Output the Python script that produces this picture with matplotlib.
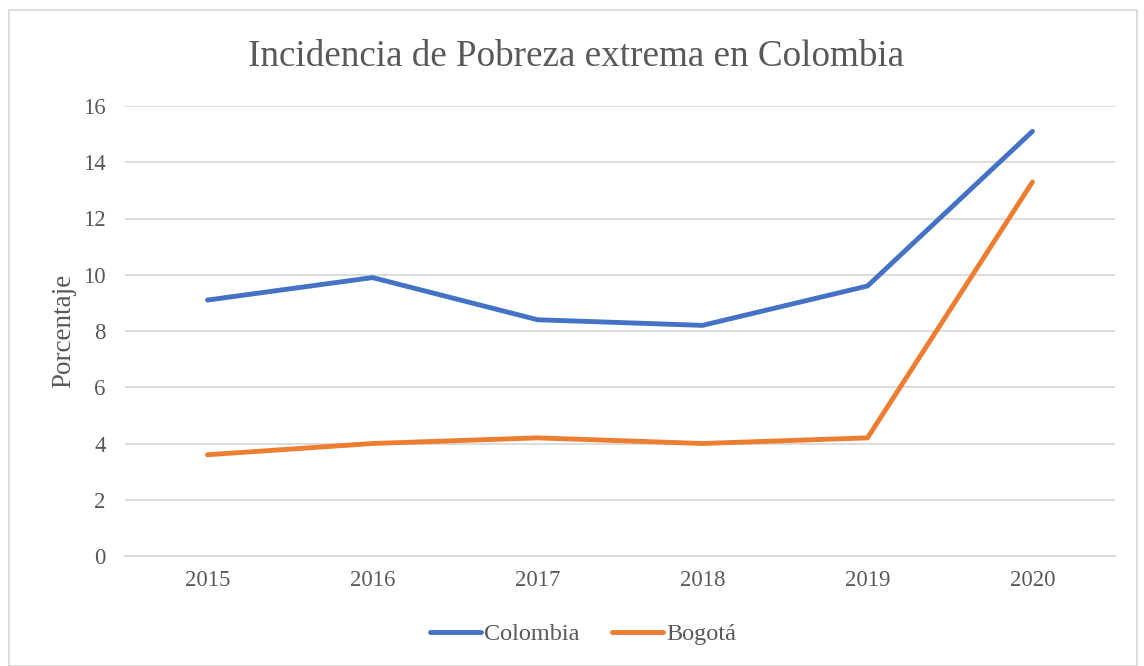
import matplotlib
matplotlib.use("Agg")
import matplotlib.pyplot as plt
from matplotlib.patches import Rectangle

years = ["2015", "2016", "2017", "2018", "2019", "2020"]
colombia = [9.1, 9.9, 8.4, 8.2, 9.6, 15.1]
bogota = [3.6, 4.0, 4.2, 4.0, 4.2, 13.3]
yticks = [0, 2, 4, 6, 8, 10, 12, 14, 16]

plt.rcParams['font.family'] = ['Liberation Serif', 'DejaVu Serif']
txt = '#595959'

fig = plt.figure(figsize=(11.44, 6.66), dpi=100)
ax = fig.add_axes([125/1144, 1-556/666, 990/1144, 450/666])

x = list(range(len(years)))
ax.plot(x, colombia, color='#4472C4', lw=3.5, solid_capstyle='round', solid_joinstyle='round', label='Colombia', zorder=3)
ax.plot(x, bogota, color='#ED7D31', lw=3.5, solid_capstyle='round', solid_joinstyle='round', label='Bogotá', zorder=3)

ax.set_xlim(-0.5, 5.5)
ax.set_ylim(0, 16)
ax.set_yticks(yticks)
ax.set_xticks(x)
ax.set_xticklabels(years)
ax.grid(axis='y', color='#D9D9D9', lw=1.3)
ax.set_axisbelow(True)
for s in ['top', 'right', 'left']:
    ax.spines[s].set_visible(False)
ax.spines['bottom'].set_color('#D9D9D9')
ax.spines['bottom'].set_linewidth(1.3)
ax.tick_params(axis='both', length=0, labelsize=16.5, colors=txt)
ax.tick_params(axis='y', pad=14)
ax.tick_params(axis='x', pad=10)
ax.set_ylabel('Porcentaje', fontsize=19.5, color=txt, labelpad=5)

fig.text(576/1144, 1-57/666, 'Incidencia de Pobreza extrema en Colombia', fontsize=26.7, color=txt, ha='center', va='center')

leg = fig.legend(loc='center', bbox_to_anchor=(583/1144, 1-634/666), ncol=2, frameon=False,
                 fontsize=17.5, handlelength=2.1, handletextpad=0.15, columnspacing=1.3)
for t in leg.get_texts():
    t.set_color(txt)

fig.patches.append(Rectangle((9/1144, 0), 1128/1144, 1-10/666, transform=fig.transFigure,
                             fill=False, edgecolor='#D9D9D9', lw=1.3))

fig.savefig('out.png', dpi=100)
